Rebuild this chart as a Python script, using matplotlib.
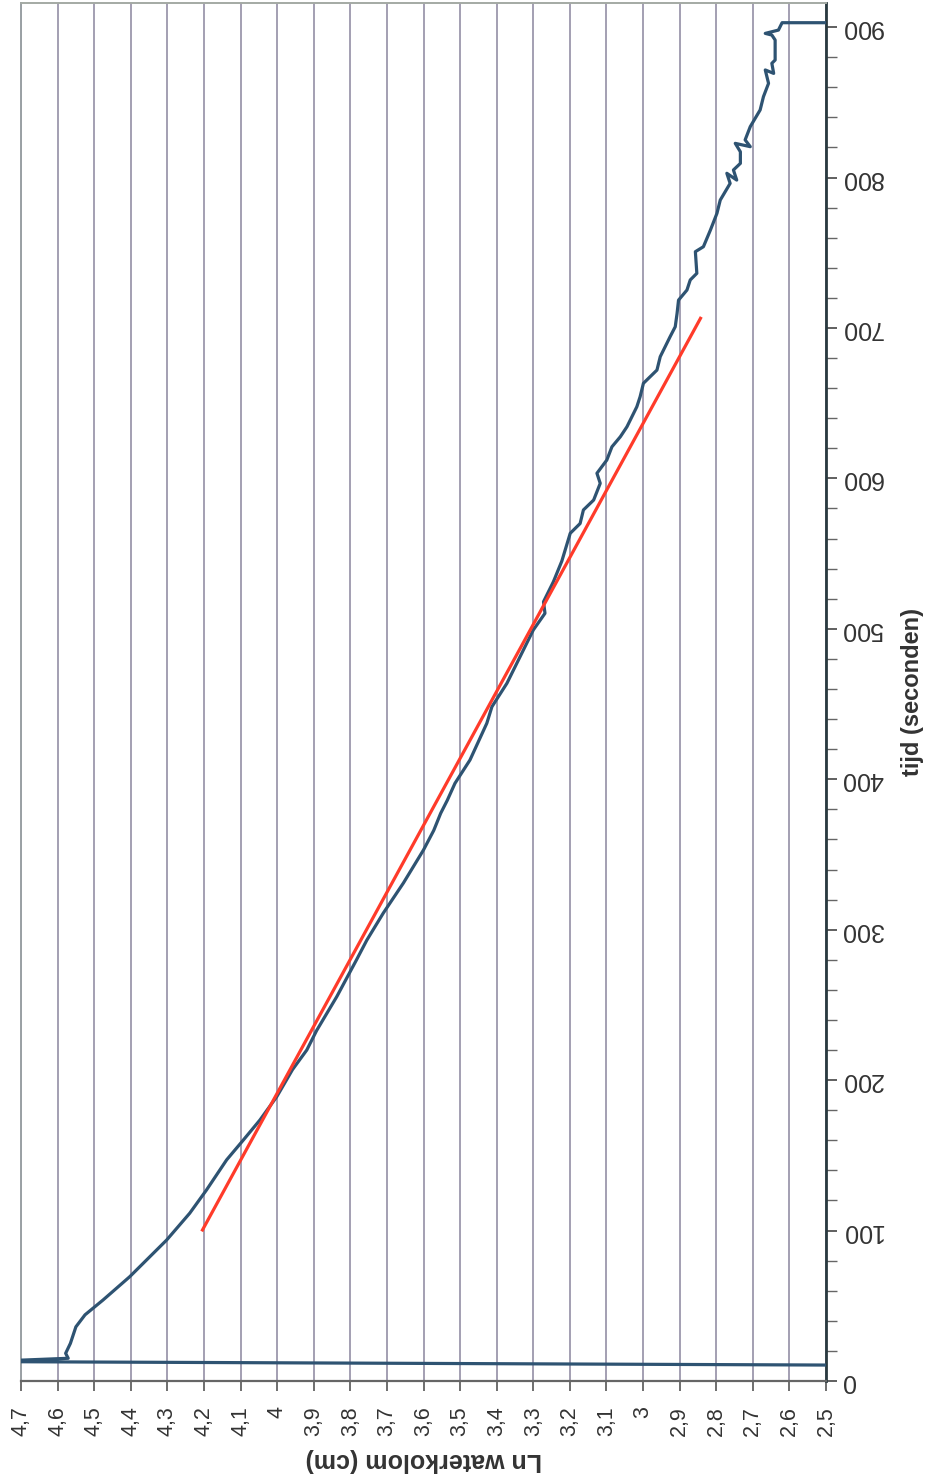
import numpy as np
import matplotlib
matplotlib.use("Agg")
import matplotlib.pyplot as plt
from matplotlib.ticker import FixedLocator, MultipleLocator

plt.rcParams['font.family'] = ['Liberation Sans', 'DejaVu Sans']

# meetreeks: tijd (s) en Ln waterkolom (cm)
tijd = [10.4, 12.9, 15.1, 18.4, 25, 36, 44, 53.8, 69.3, 93.7, 111.5, 127, 147, 160,
        173.5, 189, 207, 220, 233, 255.5, 280, 293, 311, 331, 353, 366, 377.4, 386,
        397.3, 412.8, 437.2, 448.2, 463.8, 481.5, 499.2, 510.3, 518, 531.3, 545, 563.5,
        570, 579, 585.6, 596.7, 603.4, 612.2, 621, 627.7, 634.3, 647.6, 654.3, 663.2,
        672, 680.9, 694.2, 700.8, 709.7, 718.5, 725.2, 731.9, 736.3, 750.7, 754, 765,
        776.2, 785, 796.1, 802.8, 798.3, 805, 809.4, 817.1, 822.7, 820.5, 825, 833.8,
        844.9, 853.7, 862.6, 871.5, 869.2, 875.9, 878.1, 891.4, 894.7, 895.8, 896.9,
        898, 902.9, 902.9]
ln_h = [2.3, 4.8, 4.571, 4.578, 4.565, 4.550, 4.525, 4.476, 4.403, 4.302, 4.239, 4.193,
        4.138, 4.093, 4.047, 4.001, 3.958, 3.919, 3.892, 3.837, 3.783, 3.755, 3.710,
        3.655, 3.600, 3.572, 3.553, 3.535, 3.514, 3.473, 3.427, 3.413, 3.372, 3.336,
        3.300, 3.268, 3.272, 3.245, 3.222, 3.199, 3.172, 3.163, 3.135, 3.117, 3.126,
        3.099, 3.085, 3.062, 3.044, 3.017, 3.008, 2.999, 2.962, 2.953, 2.926, 2.912,
        2.907, 2.903, 2.880, 2.871, 2.853, 2.857, 2.835, 2.816, 2.798, 2.789, 2.762,
        2.771, 2.744, 2.753, 2.734, 2.734, 2.748, 2.707, 2.721, 2.707, 2.680, 2.671,
        2.657, 2.666, 2.643, 2.648, 2.639, 2.639, 2.648, 2.666, 2.648, 2.630, 2.620, 2.4]

# rechte lijn (trendlijn)
trend_tijd = [100.4, 706.4]
trend_ln = [4.204, 2.843]

x_ticks = [round(4.7 - 0.1 * i, 1) for i in range(23)]
x_labels = ['{:g}'.format(v).replace('.', ',') for v in x_ticks]
y_ticks = [0, 100, 200, 300, 400, 500, 600, 700, 800, 900]

fig = plt.figure(figsize=(9.3, 14.81), dpi=100)
ax = fig.add_axes([21 / 930, 1 - 1381 / 1481, (826 - 21) / 930, (1381 - 3) / 1481])

ax.plot(ln_h, tijd, color='#2e5372', lw=2.3, zorder=3)
ax.plot(trend_ln, trend_tijd, color='#ff3b2a', lw=2.3, zorder=4)

ax.set_xlim(4.7, 2.5)
ax.set_ylim(0, 916)

ax.xaxis.set_major_locator(FixedLocator(x_ticks))
ax.set_xticklabels(x_labels)
ax.yaxis.set_major_locator(FixedLocator(y_ticks))
ax.set_yticklabels([str(v) for v in y_ticks])
ax.yaxis.set_minor_locator(MultipleLocator(20))
ax.yaxis.tick_right()

ax.grid(axis='x', color='#948fa6', lw=1.2)
ax.tick_params(axis='x', direction='out', length=7, width=1.2, color='#555555',
               labelsize=15.5, labelrotation=90, pad=11, labelcolor='#333333')
ax.tick_params(axis='y', which='major', direction='out', length=8, width=1.2,
               color='#444444', labelsize=18, labelrotation=180, pad=3,
               labelcolor='#333333')
ax.tick_params(axis='y', which='minor', direction='out', length=8, width=1.0,
               color='#666666')
for tk in ax.yaxis.get_major_ticks():
    tk.label2.set_verticalalignment('center')

ax.spines['left'].set_color('#9aa0a4')
ax.spines['left'].set_linewidth(1.4)
ax.spines['top'].set_color('#a4aaa4')
ax.spines['top'].set_linewidth(1.4)
ax.spines['right'].set_color('#2a3a40')
ax.spines['right'].set_linewidth(2.0)
ax.spines['bottom'].set_color('#666666')
ax.spines['bottom'].set_linewidth(1.6)

fig.text(423.5 / 930, 1 - 1460 / 1481, 'Ln waterkolom (cm)', rotation=180,
         ha='center', va='center', fontsize=18, fontweight='bold', color='#333333')
fig.text(912 / 930, 1 - 692 / 1481, 'tijd (seconden)', rotation=90,
         ha='center', va='center', fontsize=17, fontweight='bold', color='#333333')

fig.savefig('out.png', dpi=100, facecolor='white')
